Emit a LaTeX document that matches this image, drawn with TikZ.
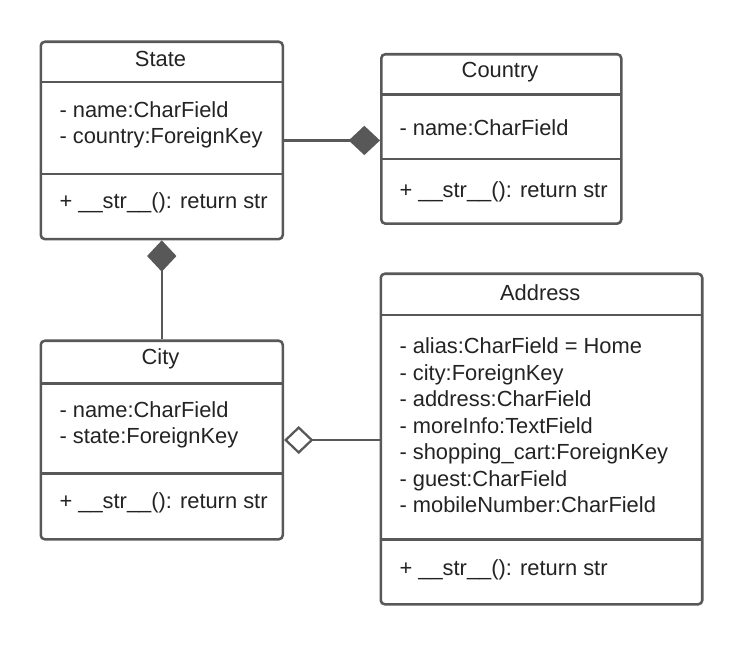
\documentclass[tikz,border=0pt]{standalone}
\usepackage{fontspec}
\setmainfont{Liberation Sans}
\usetikzlibrary{arrows.meta}
\definecolor{umlline}{RGB}{88,88,88}
\definecolor{umltext}{RGB}{35,35,35}
\tikzset{
  classbox/.style={draw=umlline, line width=1.9pt, rounded corners=3pt, fill=white, inner sep=0pt, anchor=north west},
  sepline/.style={draw=umlline, line width=1.9pt},
  umltitle/.style={inner sep=0pt, text=umltext, font=\fontsize{16.4pt}{19.9pt}\selectfont},
  umlattr/.style={inner sep=0pt, anchor=west, align=left, text=umltext, font=\fontsize{16.4pt}{19.9pt}\selectfont},
  conn/.style={draw=umlline, line width=1.7pt},
  compo/.style={conn, -{Diamond[length=23.5pt, width=22pt, fill=umlline]}},
  aggr/.style={conn, -{Diamond[open, length=22pt, width=21pt, fill=white]}}
}
\begin{document}
\begin{tikzpicture}[x=0.75pt, y=-0.75pt]
\useasboundingbox (0,0) rectangle (740,645);
\fill[white] (0,0) rectangle (740,645);

% State
\node[classbox, minimum width=181.5pt, minimum height=148pt] (state) at (39.5,40.5) {};
\draw[sepline] (39.5,82) -- (281.5,82);
\draw[sepline] (39.5,174) -- (281.5,174);
\node[umltitle] (statet) at (160.5,59) {State};
\node[umlattr] (statea) at (59.3,125) {- name:CharField\\- country:ForeignKey};
\node[umlattr] (statem) at (59.3,203) {+ \_\_str\_\_(): return str};

% Country
\node[classbox, minimum width=180pt, minimum height=127pt] (country) at (380,53) {};
\draw[sepline] (380,94.3) -- (620,94.3);
\draw[sepline] (380,159) -- (620,159);
\node[umltitle] (countryt) at (500,72.3) {Country};
\node[umlattr] (countrya) at (399.3,127.3) {- name:CharField};
\node[umlattr] (countrym) at (399.3,191.5) {+ \_\_str\_\_(): return str};

% City
\node[classbox, minimum width=181.5pt, minimum height=148.9pt] (city) at (39.5,339.5) {};
\draw[sepline] (39.5,383.3) -- (281.5,383.3);
\draw[sepline] (39.5,473.3) -- (281.5,473.3);
\node[umltitle] (cityt) at (160.5,359.3) {City};
\node[umlattr] (citya) at (59.3,425) {- name:CharField\\- state:ForeignKey};
\node[umlattr] (citym) at (59.3,503) {+ \_\_str\_\_(): return str};

% Address
\node[classbox, minimum width=241.1pt, minimum height=247.9pt] (address) at (379.5,272.5) {};
\draw[sepline] (379.5,315) -- (701,315);
\draw[sepline] (379.5,539.3) -- (701,539.3);
\node[umltitle] (addresst) at (540.25,292.3) {Address};
\node[umlattr] (addressa) at (399.3,425.5) {- alias:CharField = Home\\- city:ForeignKey\\- address:CharField\\- moreInfo:TextField\\- shopping\_cart:ForeignKey\\- guest:CharField\\- mobileNumber:CharField};
\node[umlattr] (addressm) at (399.3,570) {+ \_\_str\_\_(): return str};

% Connectors
\draw[compo] (state.east) -- (state.east -| country.west);
\draw[compo] (city.north) -- (state.south);
\draw[aggr] (city.east -| address.west) -- (city.east);
\end{tikzpicture}
\end{document}
